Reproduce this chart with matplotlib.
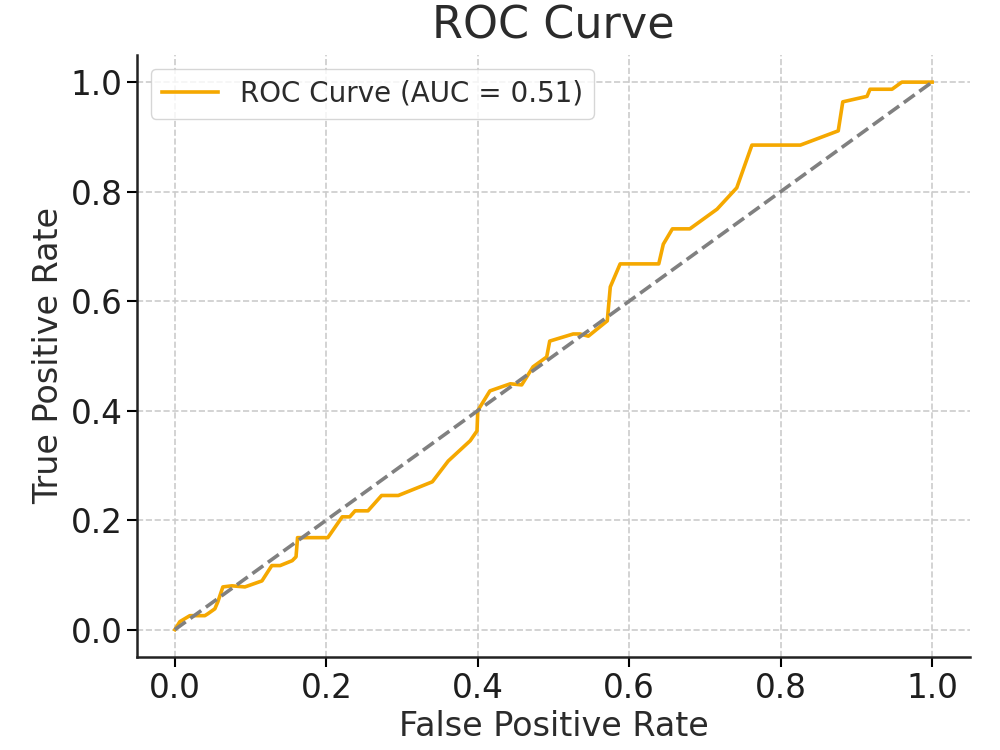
import numpy as np
import matplotlib.pyplot as plt

# ROC points
fpr = [0.0, 0.0066, 0.0198, 0.0396, 0.0436, 0.0528, 0.0568, 0.0634, 0.0753, 0.0925,
       0.115, 0.128, 0.139, 0.155, 0.160, 0.162, 0.202, 0.221, 0.231, 0.238,
       0.255, 0.273, 0.295, 0.304, 0.340, 0.361, 0.390, 0.399, 0.400, 0.416,
       0.443, 0.458, 0.473, 0.491, 0.495, 0.526, 0.535, 0.546, 0.571, 0.575,
       0.588, 0.639, 0.645, 0.657, 0.680, 0.716, 0.742, 0.762, 0.826, 0.876,
       0.882, 0.914, 0.918, 0.947, 0.960, 1.0]
tpr = [0.0, 0.0146, 0.0255, 0.0255, 0.029, 0.038, 0.051, 0.078, 0.080, 0.078,
       0.089, 0.117, 0.117, 0.126, 0.133, 0.168, 0.168, 0.206, 0.206, 0.217,
       0.217, 0.245, 0.245, 0.25, 0.270, 0.308, 0.345, 0.363, 0.40, 0.436,
       0.449, 0.447, 0.48, 0.498, 0.527, 0.540, 0.540, 0.536, 0.564, 0.626,
       0.668, 0.668, 0.704, 0.732, 0.732, 0.768, 0.807, 0.885, 0.885, 0.911,
       0.964, 0.974, 0.987, 0.987, 1.0, 1.0]
auc_value = 0.51

text_color = '#2b2b2b'

fig, ax = plt.subplots(figsize=(10, 7.5), dpi=100)
fig.subplots_adjust(left=0.137, right=0.97, bottom=0.124, top=0.927)

ax.plot(fpr, tpr, color='#F5A800', lw=2.6, label=f'ROC Curve (AUC = {auc_value:.2f})')
ax.plot([0, 1], [0, 1], color='gray', lw=2.6, linestyle='--')

ax.set_title('ROC Curve', fontsize=32, color=text_color, pad=12)
ax.set_xlabel('False Positive Rate', fontsize=24, color=text_color)
ax.set_ylabel('True Positive Rate', fontsize=24, color=text_color)

ax.set_xticks(np.arange(0, 1.01, 0.2))
ax.set_yticks(np.arange(0, 1.01, 0.2))
ax.tick_params(labelsize=23.5, direction='out', length=7, width=1.5, labelcolor='#1e1e1e')

ax.grid(True, linestyle='--', color='#cccccc', lw=1.2)
ax.set_axisbelow(True)
ax.spines['top'].set_visible(False)
ax.spines['right'].set_visible(False)
for s in ['left', 'bottom']:
    ax.spines[s].set_linewidth(1.8)
    ax.spines[s].set_color('#222222')

leg = ax.legend(loc='upper left', fontsize=20, frameon=True)
for t in leg.get_texts():
    t.set_color(text_color)

fig.savefig('out.png')
